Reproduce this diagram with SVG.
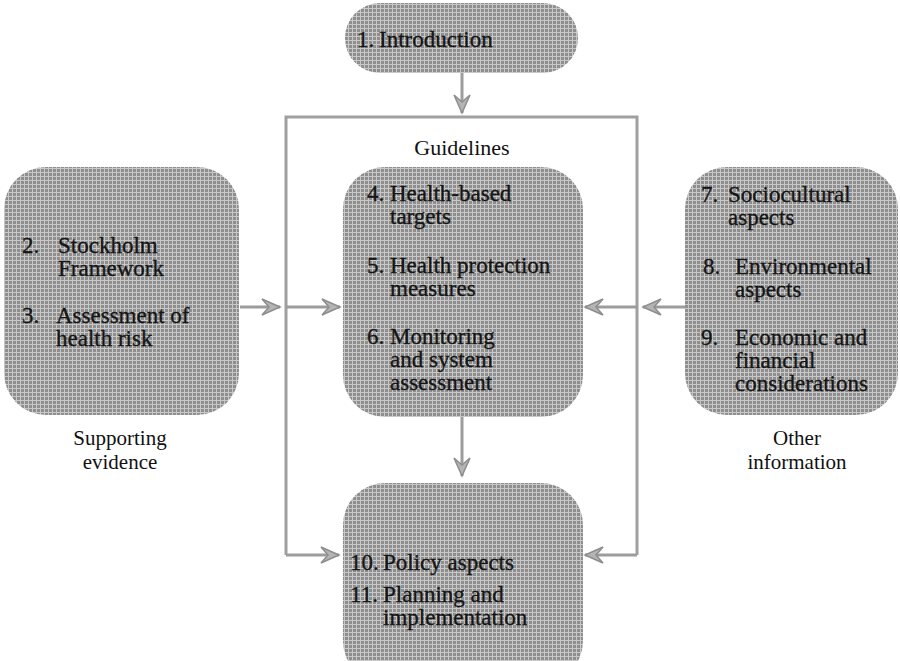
<svg xmlns="http://www.w3.org/2000/svg" width="900" height="661" viewBox="0 0 900 661">
<defs>
<pattern id="ht" width="4" height="4" patternUnits="userSpaceOnUse">
<rect width="4" height="4" fill="#8e8e8e"/>
<rect x="0" y="0" width="4" height="1" fill="#c8c8c8"/>
<rect x="0" y="0" width="1" height="4" fill="#c8c8c8"/>
</pattern>
<marker id="ah" viewBox="-20 -10 22 20" refX="0" refY="0" markerWidth="22" markerHeight="20" markerUnits="userSpaceOnUse" orient="auto">
<path d="M0,0 L-18,-8 L-11,0 L-18,8 Z" fill="#b4b4b4" stroke="#8e8e8e" stroke-width="1.5"/>
</marker>
</defs>
<style>
.box{fill:url(#ht);}
.t{font-family:"Liberation Serif","Times New Roman",serif;font-size:23px;fill:#151515;stroke:#151515;stroke-width:0.35;}
.lab{font-family:"Liberation Serif","Times New Roman",serif;font-size:21px;fill:#111;text-anchor:middle;}
.c{fill:none;stroke:#9c9c9c;stroke-width:3;}
.fr{fill:none;stroke:#a0a0a0;stroke-width:3;}
</style>

<g id="connectors">
<polyline class="fr" points="286,555 286,117 637,117 637,555"/>
<line class="c" x1="462" y1="72" x2="462" y2="113" marker-end="url(#ah)"/>
<line class="c" x1="240" y1="307" x2="280" y2="307" marker-end="url(#ah)"/>
<line class="c" x1="286" y1="307" x2="340" y2="307" marker-end="url(#ah)"/>
<line class="c" x1="686" y1="307" x2="643" y2="307" marker-end="url(#ah)"/>
<line class="c" x1="637" y1="307" x2="585" y2="307" marker-end="url(#ah)"/>
<line class="c" x1="462" y1="415" x2="462" y2="476" marker-end="url(#ah)"/>
<line class="c" x1="286" y1="555" x2="339" y2="555" marker-end="url(#ah)"/>
<line class="c" x1="637" y1="555" x2="585" y2="555" marker-end="url(#ah)"/>
</g>

<g id="n1">
<rect class="box" x="345" y="3" width="233" height="70" rx="35" ry="35"/>
<text class="t" x="357" y="47">1.</text>
<text class="t" x="379" y="47">Introduction</text>
</g>

<g id="guidelines">
<text class="lab" x="462" y="155" style="font-size:22px">Guidelines</text>
</g>

<g id="n2">
<rect class="box" x="4" y="167" width="235" height="248" rx="42" ry="42"/>
<text class="t" x="22" y="253">2.</text>
<text class="t" x="58" y="253">Stockholm</text>
<text class="t" x="58" y="276">Framework</text>
<text class="t" x="22" y="323">3.</text>
<text class="t" x="56" y="323">Assessment of</text>
<text class="t" x="56" y="346">health risk</text>
<text class="lab" x="120" y="445">Supporting</text>
<text class="lab" x="120" y="469">evidence</text>
</g>

<g id="n4">
<rect class="box" x="343" y="167" width="240" height="250" rx="42" ry="42"/>
<text class="t" x="367" y="201">4.</text>
<text class="t" x="390" y="201">Health-based</text>
<text class="t" x="390" y="224">targets</text>
<text class="t" x="367" y="273">5.</text>
<text class="t" x="390" y="273">Health protection</text>
<text class="t" x="390" y="296">measures</text>
<text class="t" x="367" y="344">6.</text>
<text class="t" x="390" y="344">Monitoring</text>
<text class="t" x="390" y="367">and system</text>
<text class="t" x="390" y="390">assessment</text>
</g>

<g id="n7">
<rect class="box" x="685" y="167" width="213" height="248" rx="42" ry="42"/>
<text class="t" x="701" y="202">7.</text>
<text class="t" x="728" y="202">Sociocultural</text>
<text class="t" x="728" y="225">aspects</text>
<text class="t" x="703" y="274">8.</text>
<text class="t" x="735" y="274">Environmental</text>
<text class="t" x="735" y="297">aspects</text>
<text class="t" x="701" y="345">9.</text>
<text class="t" x="735" y="345">Economic and</text>
<text class="t" x="735" y="368">financial</text>
<text class="t" x="735" y="391">considerations</text>
<text class="lab" x="797" y="445">Other</text>
<text class="lab" x="797" y="469">information</text>
</g>

<g id="n10">
<rect class="box" x="343" y="483" width="240" height="200" rx="42" ry="42"/>
<text class="t" x="350" y="570">10.</text>
<text class="t" x="383" y="570">Policy aspects</text>
<text class="t" x="350" y="602">11.</text>
<text class="t" x="383" y="602">Planning and</text>
<text class="t" x="383" y="625">implementation</text>
</g>
</svg>
